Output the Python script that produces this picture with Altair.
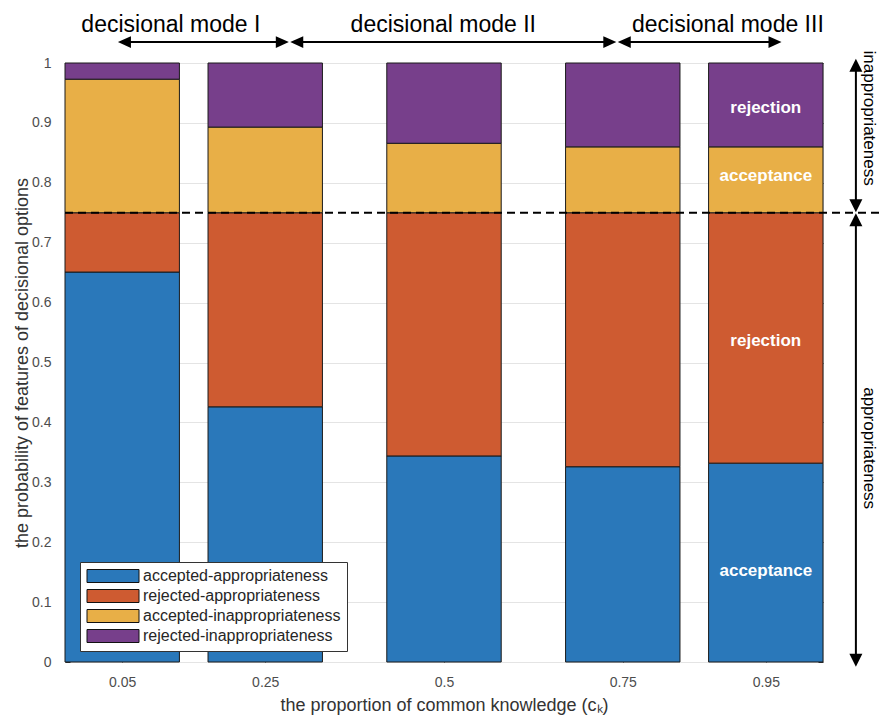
import altair as alt
import pandas as pd

FONT = "Liberation Sans"

# ---- data ----
ck = [0.05, 0.25, 0.5, 0.75, 0.95]
series = [
    "accepted-appropriateness",
    "rejected-appropriateness",
    "accepted-inappropriateness",
    "rejected-inappropriateness",
]
accepted_appropriateness = [0.651, 0.426, 0.344, 0.326, 0.332]
rejected_appropriateness = [0.099, 0.324, 0.406, 0.424, 0.418]
accepted_inappropriateness = [0.223, 0.143, 0.116, 0.110, 0.110]
rejected_inappropriateness = [0.027, 0.107, 0.134, 0.140, 0.140]
colors = ["#2A78BA", "#CE5B31", "#E8AF47", "#773F8B"]

x_ticks = [0.05, 0.25, 0.5, 0.75, 0.95]
y_ticks = [0, 0.1, 0.2, 0.3, 0.4, 0.5, 0.6, 0.7, 0.8, 0.9, 1]

threshold = [0.75]

mode_labels = ["decisional mode I", "decisional mode II", "decisional mode III"]
mode_label_x = [0.118, 0.499, 0.897]
mode_start = [0.044, 0.285, 0.743]
mode_end = [0.283, 0.741, 0.972]

side_labels = ["inappropriateness", "appropriateness"]
side_label_y = [0.908, 0.357]
side_top = [1.007, 0.749]
side_bottom = [0.751, -0.008]

bar_text = ["rejection", "acceptance", "rejection", "acceptance"]
bar_text_y = [0.925, 0.811, 0.536, 0.152]
bar_text_x = 0.95

# ---- layout constants ----
BAR_HALF = 0.08
TOP_ARROW_Y = 1.035
MODE_TEXT_Y = 1.063
SIDE_ARROW_X = 1.076
SIDE_TEXT_X = 1.094
HEAD_GAP = 0.008

values = [accepted_appropriateness, rejected_appropriateness,
          accepted_inappropriateness, rejected_inappropriateness]
bar_df = pd.DataFrame([
    {"ck": c, "series": s, "order": i, "value": v}
    for i, (s, vals) in enumerate(zip(series, values))
    for c, v in zip(ck, vals)
])

x_scale = alt.Scale(domain=[-0.03, 1.03], nice=False, zero=False)
y_scale = alt.Scale(domain=[0, 1], nice=False, zero=False)

bars = alt.Chart(bar_df).transform_stack(
    stack="value", groupby=["ck"], as_=["y0", "y1"],
    sort=[alt.SortField("order", order="ascending")],
).transform_calculate(
    x0=f"datum.ck - {BAR_HALF}", x1=f"datum.ck + {BAR_HALF}"
).mark_bar(stroke="#1a1a1a", strokeWidth=1).encode(
    x=alt.X("x0:Q", scale=x_scale, axis=alt.Axis(
        values=x_ticks, format=".2~f", orient="bottom",
        title="the proportion of common knowledge (cₖ)",
        offset=-5, tickSize=5, tickColor="#333333", domain=False, grid=False,
        labelPadding=13, labelFont=FONT, labelFontSize=14, labelColor="#4d4d4d",
        titleFont=FONT, titleFontSize=18, titleFontWeight="normal", titleColor="#333333",
        titleY=48, titleBaseline="middle",
    )),
    x2="x1:Q",
    y=alt.Y("y0:Q", scale=y_scale, axis=alt.Axis(
        values=y_ticks, format=".1~f", orient="left",
        title="the probability of features of decisional options",
        offset=-5, tickSize=5, tickColor="#333333", domain=False,
        grid=True, gridColor="#e4e4e4", gridWidth=1,
        labelPadding=14, labelFont=FONT, labelFontSize=14, labelColor="#4d4d4d",
        titleFont=FONT, titleFontSize=18, titleFontWeight="normal", titleColor="#333333",
        titleX=-48, titleBaseline="middle",
    )),
    y2="y1:Q",
    color=alt.Color("series:N", scale=alt.Scale(domain=series, range=colors),
                    legend=alt.Legend(
                        title=None, orient="none", legendX=15, legendY=499,
                        symbolType="M-4,-1H4V1H-4Z", symbolSize=169, symbolOffset=19,
                        symbolStrokeColor="#111111", symbolStrokeWidth=1, symbolOpacity=1,
                        labelFont=FONT, labelFontSize=16, labelColor="#262626",
                        labelOffset=22, labelLimit=400, rowPadding=2, padding=6,
                        fillColor="white", strokeColor="#333333",
                    )),
)

dash_df = pd.DataFrame({"y": threshold, "xa": [-0.03], "xb": [1.121]})
dashed = alt.Chart(dash_df).mark_rule(
    color="black", strokeWidth=2, strokeDash=[8, 5]
).encode(
    x=alt.X("xa:Q", scale=x_scale, axis=None),
    x2="xb:Q",
    y=alt.Y("y:Q", scale=y_scale, axis=None),
)

label_df = pd.DataFrame({"t": bar_text, "y": bar_text_y, "x": [bar_text_x] * len(bar_text)})
bar_labels = alt.Chart(label_df).mark_text(
    color="white", font=FONT, fontSize=17, fontWeight="bold", align="center", baseline="middle"
).encode(
    x=alt.X("x:Q", scale=x_scale, axis=alt.Axis(
        orient="top", values=x_ticks, labels=False, ticks=True, tickSize=5, offset=-5,
        tickColor="#333333", domain=False, grid=False, title=None)),
    y=alt.Y("y:Q", scale=y_scale, axis=alt.Axis(
        orient="right", values=y_ticks, labels=False, ticks=True, tickSize=5, offset=-5,
        tickColor="#333333", domain=False, grid=False, title=None)),
    text="t:N",
)

# horizontal arrows (decisional modes)
h_df = pd.DataFrame({
    "xa": [s + HEAD_GAP for s in mode_start],
    "xb": [e - HEAD_GAP for e in mode_end],
    "y": [TOP_ARROW_Y] * len(mode_start),
})
h_rules = alt.Chart(h_df).mark_rule(color="black", strokeWidth=2).encode(
    x=alt.X("xa:Q", scale=x_scale, axis=None), x2="xb:Q",
    y=alt.Y("y:Q", scale=y_scale, axis=None),
)

v_df = pd.DataFrame({
    "ya": [t - HEAD_GAP for t in side_top],
    "yb": [b + HEAD_GAP for b in side_bottom],
    "x": [SIDE_ARROW_X] * len(side_top),
})
v_rules = alt.Chart(v_df).mark_rule(color="black", strokeWidth=2).encode(
    x=alt.X("x:Q", scale=x_scale, axis=None),
    y=alt.Y("ya:Q", scale=y_scale, axis=None), y2="yb:Q",
)

head_rows = []
for s, e in zip(mode_start, mode_end):
    head_rows.append({"hx": s, "hy": TOP_ARROW_Y, "dir": "left"})
    head_rows.append({"hx": e, "hy": TOP_ARROW_Y, "dir": "right"})
for t, b in zip(side_top, side_bottom):
    head_rows.append({"hx": SIDE_ARROW_X, "hy": t, "dir": "up"})
    head_rows.append({"hx": SIDE_ARROW_X, "hy": b, "dir": "down"})
head_df = pd.DataFrame(head_rows)
heads = alt.Chart(head_df).mark_point(
    filled=True, color="black", opacity=1, size=169, strokeWidth=0
).encode(
    x=alt.X("hx:Q", scale=x_scale, axis=None),
    y=alt.Y("hy:Q", scale=y_scale, axis=None),
    shape=alt.Shape("dir:N", scale=alt.Scale(
        domain=["left", "right", "up", "down"],
        range=["M0,0L2,-0.9L2,0.9Z", "M0,0L-2,-0.9L-2,0.9Z",
               "M0,0L-1,2L1,2Z", "M0,0L-1,-2L1,-2Z"]), legend=None),
)

mode_df = pd.DataFrame({"t": mode_labels, "x": mode_label_x, "y": [MODE_TEXT_Y] * 3})
mode_text = alt.Chart(mode_df).mark_text(
    color="black", font=FONT, fontSize=23, align="center", baseline="middle"
).encode(
    x=alt.X("x:Q", scale=x_scale, axis=None),
    y=alt.Y("y:Q", scale=y_scale, axis=None),
    text="t:N",
)

side_df = pd.DataFrame({"t": side_labels, "y": side_label_y, "x": [SIDE_TEXT_X] * 2})
side_text = alt.Chart(side_df).mark_text(
    color="black", font=FONT, fontSize=17, align="center", baseline="middle", angle=90
).encode(
    x=alt.X("x:Q", scale=x_scale, axis=None),
    y=alt.Y("y:Q", scale=y_scale, axis=None),
    text="t:N",
)

chart = alt.layer(
    bars, dashed, bar_labels, h_rules, v_rules, heads, mode_text, side_text
).resolve_axis(
    x="independent", y="independent"
).properties(
    width=758, height=599,
    padding={"left": 57, "top": 55, "right": 57, "bottom": 54},
    autosize=alt.AutoSizeParams(type="none"),
).configure_view(
    stroke="#808080", strokeWidth=1
).configure(
    background="white"
)

chart.save("out.html", embed_options={"renderer": "svg", "actions": False})
